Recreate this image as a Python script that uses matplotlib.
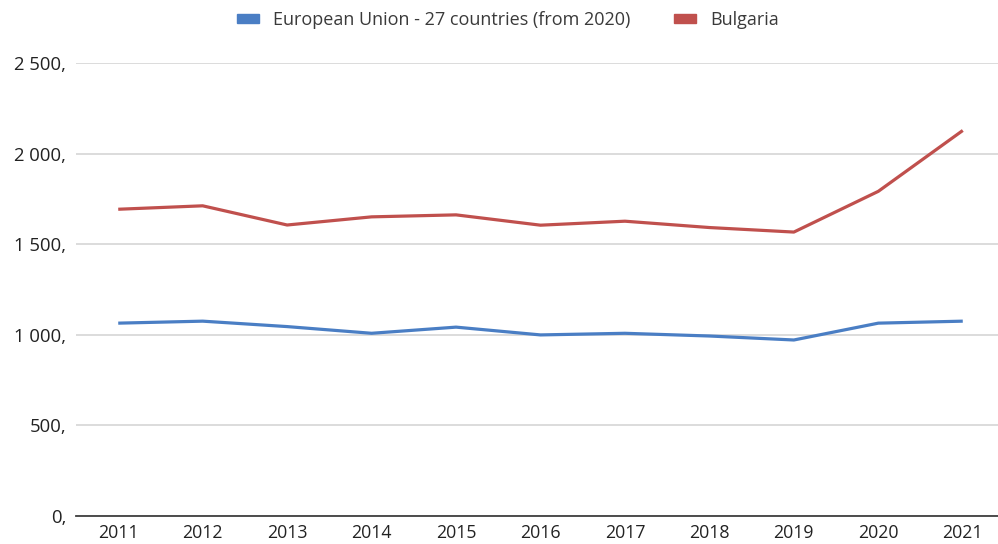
import matplotlib.pyplot as plt
from matplotlib.patches import Patch

# Series values per year
years = ['2011', '2012', '2013', '2014', '2015', '2016', '2017', '2018', '2019', '2020', '2021']
eu27 = [1065, 1076, 1046, 1009, 1043, 1000, 1009, 994, 972, 1065, 1076]
bulgaria = [1694, 1713, 1607, 1652, 1663, 1606, 1628, 1593, 1568, 1793, 2129]
y_ticks = [0, 500, 1000, 1500, 2000, 2500]

blue = '#4A7EC4'
red = '#C0504D'

plt.rcParams['font.family'] = ['Open Sans', 'DejaVu Sans']

fig = plt.figure(figsize=(9.98, 5.44), dpi=100)
ax = fig.add_axes([76 / 998, 28 / 544, 929 / 998, (516 - 63.3) / 544])

x = range(len(years))
ax.plot(x, eu27, color=blue, lw=2.3, solid_capstyle='butt', zorder=3)
ax.plot(x, bulgaria, color=red, lw=2.3, solid_capstyle='butt', zorder=3)

ax.set_xlim(-0.5, len(years) - 0.5)
ax.set_ylim(0, 2500)
ax.set_xticks(list(x))
ax.set_xticklabels(years)
ax.set_yticks(y_ticks)
ax.set_yticklabels([f'{v:,},'.replace(',', ' ', 1) if v >= 1000 else f'{v},' for v in y_ticks])

ax.grid(axis='y', color='#D9D9D9', lw=1.3, zorder=0)
for s in ['top', 'right', 'left']:
    ax.spines[s].set_visible(False)
ax.spines['bottom'].set_color('#3F3F3F')
ax.spines['bottom'].set_linewidth(1.3)
ax.spines['bottom'].set_zorder(4)
ax.tick_params(axis='both', length=0, labelsize=13.3, colors='#222222')
ax.tick_params(axis='y', pad=7)
ax.tick_params(axis='x', pad=6, labelsize=12.8)

handles = [Patch(color=blue), Patch(color=red)]
fig.legend(handles, ['European Union - 27 countries (from 2020)', 'Bulgaria'],
           loc='center', bbox_to_anchor=(508 / 998, 1 - 20 / 544), ncol=2,
           frameon=False, fontsize=13, handlelength=1.2, handleheight=0.4,
           handletextpad=0.8, columnspacing=2.4, labelcolor='#3A3A3A')

fig.savefig('out.png', dpi=100)
